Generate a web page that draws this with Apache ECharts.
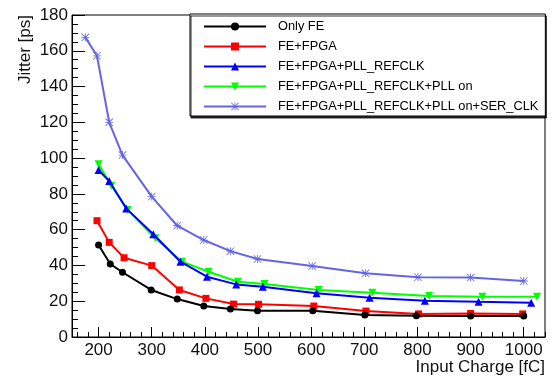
<!DOCTYPE html>
<html>
<head>
<meta charset="utf-8">
<script src="https://cdn.jsdelivr.net/npm/echarts@6/dist/echarts.min.js"></script>
<style>html,body{margin:0;padding:0;background:#fff}#c{width:553px;height:380px}</style>
</head>
<body>
<div id="c"></div>
<script>
const seriesNames = ['Only FE', 'FE+FPGA', 'FE+FPGA+PLL_REFCLK', 'FE+FPGA+PLL_REFCLK+PLL on', 'FE+FPGA+PLL_REFCLK+PLL on+SER_CLK'];

const onlyFeX = [200, 222, 245, 299, 348, 398, 448, 499, 603, 701, 798, 900, 1000];
const onlyFeY = [51.4, 40.8, 36.2, 26.3, 21.2, 17.3, 15.6, 14.7, 14.7, 12.3, 11.9, 11.7, 11.7];

const fpgaX = [197, 220, 248, 300, 352, 402, 454, 501, 605, 703, 802, 900, 998];
const fpgaY = [65, 52.9, 44.3, 39.9, 26.3, 21.6, 18.4, 18.3, 17.3, 14.5, 12.9, 13.2, 12.9];

const refclkX = [200, 220, 252, 303, 354, 404, 459, 509, 610, 710, 814, 915, 1014];
const refclkY = [93.3, 87.2, 71.9, 57.4, 42.1, 33.7, 29.4, 28.1, 24.4, 22, 20.3, 19.7, 19.2];

const pllOnX = [200, 224, 255, 307, 357, 407, 462, 512, 614, 715, 822, 922, 1025];
const pllOnY = [96.5, 84.6, 71, 55.2, 42.1, 36.5, 30.9, 29.6, 26.3, 24.8, 22.9, 22.5, 22.5];

const serClkX = [175, 197, 220, 245, 300, 348, 398, 448, 499, 602, 702, 801, 900, 1000];
const serClkY = [167.5, 157.2, 120, 101.7, 78.5, 62.2, 54.2, 48, 43.6, 39.7, 35.6, 33.4, 33.2, 31.3];

const xMajorTicks = [200, 300, 400, 500, 600, 700, 800, 900, 1000];
const xMinorTicks = [160, 180, 220, 240, 260, 280, 320, 340, 360, 380, 420, 440, 460, 480, 520, 540, 560, 580, 620, 640, 660, 680, 720, 740, 760, 780, 820, 840, 860, 880, 920, 940, 960, 980, 1020, 1040];

const xTitle = 'Input Charge [fC]';
const yTitle = 'Jitter [ps]';

function pairs(xs, ys) { return xs.map((x, i) => [x, ys[i]]); }

const asterisk = 'path://M0 9 L20 9 L20 11 L0 11 Z M9 0 L11 0 L11 20 L9 20 Z M1.4 0 L20 18.6 L18.6 20 L0 1.4 Z M18.6 0 L20 1.4 L1.4 20 L0 18.6 Z';

const font = 'Liberation Sans, Arial, Helvetica, sans-serif';

const styles = [
  { color: '#000000', symbol: 'circle', size: 7, rotate: 0 },
  { color: '#ff0000', symbol: 'rect', size: 7, rotate: 0 },
  { color: '#0000ff', symbol: 'triangle', size: 8, rotate: 0 },
  { color: '#00ff00', symbol: 'triangle', size: 8, rotate: 180 },
  { color: '#6464e6', symbol: asterisk, size: 8, rotate: 0 }
];
const datasets = [pairs(onlyFeX, onlyFeY), pairs(fpgaX, fpgaY), pairs(refclkX, refclkY), pairs(pllOnX, pllOnY), pairs(serClkX, serClkY)];

const chart = echarts.init(document.getElementById('c'), null, { renderer: 'canvas' });
chart.setOption({
  animation: false,
  backgroundColor: '#fff',
  textStyle: { fontFamily: font },
  grid: { left: 72, right: 8, top: 15, bottom: 43, show: true, borderColor: '#000', borderWidth: 1, backgroundColor: 'transparent' },
  legend: {
    orient: 'vertical', left: 190, top: 14,
    itemWidth: 62, itemHeight: 10, itemGap: 7,
    padding: [6, 7, 3, 13],
    borderColor: '#000', borderWidth: 1, borderRadius: 0,
    backgroundColor: '#fff',
    shadowColor: 'rgba(0,0,0,0.8)', shadowOffsetX: 1, shadowOffsetY: 2, shadowBlur: 0,
    textStyle: { fontSize: 12.8, color: '#000', fontFamily: font, padding: [0, 0, 0, 7] },
    data: seriesNames
  },
  xAxis: [{
    type: 'value', min: 150, max: 1040,
    name: xTitle, nameLocation: 'end', nameGap: 0,
    nameTextStyle: { fontSize: 17, color: '#111', align: 'right', verticalAlign: 'top', padding: [22, 0, 0, 0] },
    axisLine: { show: true, lineStyle: { color: '#000', width: 1 } },
    axisTick: { show: true, inside: true, length: 10, customValues: xMajorTicks, lineStyle: { color: '#000' } },
    axisLabel: { show: true, fontSize: 17, color: '#111', margin: 5, customValues: xMajorTicks, formatter: v => String(v) },
    splitLine: { show: false }
  }, {
    type: 'value', min: 150, max: 1040, position: 'bottom',
    axisLine: { show: false },
    axisTick: { show: true, inside: true, length: 5, customValues: xMinorTicks, lineStyle: { color: '#000' } },
    axisLabel: { show: false },
    splitLine: { show: false }
  }],
  yAxis: {
    type: 'value', min: 0, max: 180, interval: 20,
    name: yTitle, nameLocation: 'end', nameRotate: 90, nameGap: 0,
    nameTextStyle: { fontSize: 17, color: '#111', align: 'right', verticalAlign: 'bottom', padding: [0, 0, 38, 0] },
    axisLine: { show: true, lineStyle: { color: '#000', width: 1 } },
    axisTick: { show: true, inside: true, length: 13, lineStyle: { color: '#000' } },
    minorTick: { show: true, splitNumber: 4, length: 6, lineStyle: { color: '#000' } },
    axisLabel: { fontSize: 17, color: '#111', margin: 4, formatter: v => String(v) },
    splitLine: { show: false }
  },
  series: seriesNames.map((n, i) => ({
    name: n, type: 'line', xAxisIndex: 0,
    data: datasets[i],
    symbol: styles[i].symbol, symbolSize: styles[i].size, symbolRotate: styles[i].rotate,
    showAllSymbol: true,
    lineStyle: { color: styles[i].color, width: 2 },
    itemStyle: { color: styles[i].color },
    z: 10 - i
  }))
});
</script>
</body>
</html>
